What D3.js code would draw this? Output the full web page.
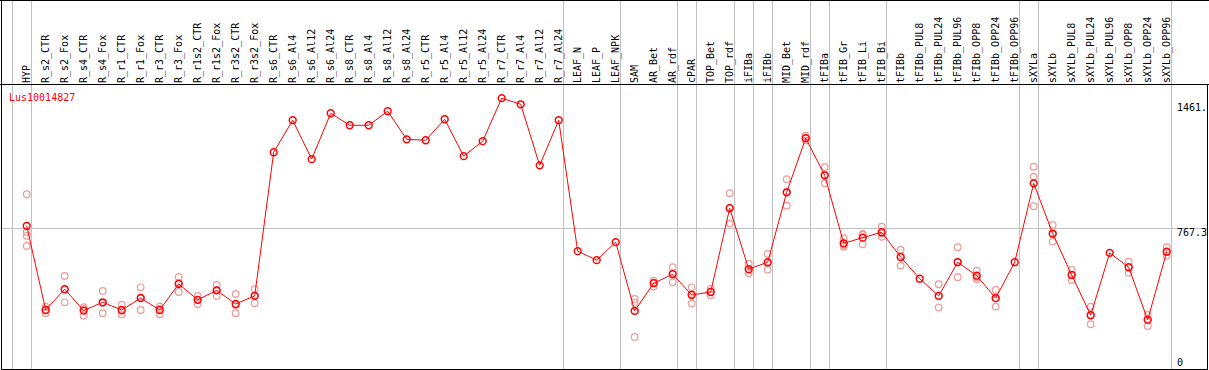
<!DOCTYPE html>
<html>
<head>
<meta charset="utf-8">
<script src="https://cdn.jsdelivr.net/npm/d3@7"></script>
<style>
  html, body { margin: 0; padding: 0; background: #fff; }
  svg { display: block; }
  text { font-family: "DejaVu Sans Mono", "Liberation Mono", monospace; font-size: 10px; }
</style>
</head>
<body>
<div id="chart"></div>
<script>
var geneName = "Lus10014827";

var samples = ["HYP", "R_s2_CTR", "R_s2_Fox", "R_s4_CTR", "R_s4_Fox", "R_r1_CTR", "R_r1_Fox",
  "R_r3_CTR", "R_r3_Fox", "R_r1s2_CTR", "R_r1s2_Fox", "R_r3s2_CTR", "R_r3s2_Fox",
  "R_s6_CTR", "R_s6_Al4", "R_s6_Al12", "R_s6_Al24", "R_s8_CTR", "R_s8_Al4", "R_s8_Al12", "R_s8_Al24",
  "R_r5_CTR", "R_r5_Al4", "R_r5_Al12", "R_r5_Al24", "R_r7_CTR", "R_r7_Al4", "R_r7_Al12", "R_r7_Al24",
  "LEAF_N", "LEAF_P", "LEAF_NPK", "SAM", "AR_Bet", "AR_rdf", "cPAR", "TOP_Bet", "TOP_rdf",
  "iFIBa", "iFIBb", "MID_Bet", "MID_rdf", "tFIBa", "tFIB_Gr", "tFIB_Li", "tFIB_Bi", "tFIBb",
  "tFIBb_PUL8", "tFIBb_PUL24", "tFIBb_PUL96", "tFIBb_OPP8", "tFIBb_OPP24", "tFIBb_OPP96",
  "sXYLa", "sXYLb", "sXYLb_PUL8", "sXYLb_PUL24", "sXYLb_PUL96", "sXYLb_OPP8", "sXYLb_OPP24", "sXYLb_OPP96"];

// mean expression per sample
var means = [780, 331, 442, 328, 372, 331, 394, 331, 470, 385, 436, 363, 406,
  1173, 1344, 1136, 1381, 1317, 1317, 1392, 1242, 1237, 1349, 1152, 1232, 1461.5, 1429, 1103, 1344,
  645, 597, 693, 326, 474, 522, 411, 427, 874, 549, 586, 959, 1248, 1050, 687, 717, 746, 613,
  498, 406, 586, 514, 394, 586, 1007, 739, 518, 303, 636, 559, 278, 642];

// individual replicates (empty where they sit under the mean)
var replicates = [
  [949, 747, 727, 673], [349, 331, 314], [513, 441, 372], [346, 337, 301], [433, 369, 314],
  [358, 327, 308], [452, 399, 331], [349, 336, 308], [507, 476, 427], [406, 386, 363],
  [465, 437, 406], [417, 358, 314], [442, 409, 367],
  [], [], [], [], [], [], [], [], [], [], [], [], [], [], [], [],
  [], [], [],
  [390, 370, 326, 187], [488, 478, 456], [559, 528, 479], [452, 416, 365], [443, 428, 410],
  [954, 876, 792], [578, 542, 527], [630, 582, 546], [1029, 961, 888], [1261, 1248, 1235],
  [1093, 1050, 1007], [714, 678, 669], [732, 737, 682], [776, 740, 722], [652, 619, 568],
  [], [469, 405, 344], [666, 586, 506], [541, 506, 495], [438, 395, 349], [],
  [1096, 1043, 885], [785, 736, 696], [545, 518, 491], [349, 305, 255], [],
  [589, 558, 530], [305, 283, 246], [666, 640, 621]];

// grey separators drawn right after these samples
var groupEnds = ["HYP", "R_r7_Al24", "LEAF_NPK", "AR_rdf", "cPAR", "TOP_rdf", "iFIBa", "iFIBb",
  "MID_rdf", "tFIBa", "tFIB_Bi", "tFIBb_OPP96", "sXYLa", "sXYLb_OPP96"];

var width = 1209, height = 370;
var headerY = 84.5, plotBottom = 369;

var svg = d3.select("#chart").append("svg")
  .attr("width", width)
  .attr("height", height);

var xScale = d3.scalePoint()
  .domain(samples)
  .range([26.7, 1166.7]);
var step = xScale.step();

var yMax = d3.max(means) * 1.05;
var yScale = d3.scaleLinear()
  .domain([0, yMax])
  .range([372, headerY]);

// vertical group separators (full height)
var sepX = [xScale(samples[0]) - step + 4].concat(groupEnds.map(function(s){ return xScale(s) + 4; }));
svg.selectAll(".sep")
  .data(sepX)
  .enter().append("line")
  .attr("x1", function(d){ return Math.round(d) + 0.5; })
  .attr("x2", function(d){ return Math.round(d) + 0.5; })
  .attr("y1", 0)
  .attr("y2", plotBottom)
  .attr("stroke", "#c0c0c0")
  .attr("stroke-width", 1);

// middle horizontal gridline
svg.append("line")
  .attr("x1", 1).attr("x2", 1207)
  .attr("y1", Math.round(yScale(yMax / 2)) + 0.5)
  .attr("y2", Math.round(yScale(yMax / 2)) + 0.5)
  .attr("stroke", "#c0c0c0");

// frame
svg.append("line").attr("x1", 0).attr("x2", width).attr("y1", 0.5).attr("y2", 0.5).attr("stroke", "#000");
svg.append("line").attr("x1", 0).attr("x2", width).attr("y1", headerY).attr("y2", headerY).attr("stroke", "#000");
svg.append("line").attr("x1", 1.5).attr("x2", 1.5).attr("y1", 0).attr("y2", plotBottom + 0.5).attr("stroke", "#000");
svg.append("line").attr("x1", 1207.5).attr("x2", 1207.5).attr("y1", headerY).attr("y2", plotBottom + 0.5).attr("stroke", "#000");
svg.append("line").attr("x1", 1).attr("x2", 1208).attr("y1", plotBottom + 0.5).attr("y2", plotBottom + 0.5).attr("stroke", "#000");

// rotated sample labels
svg.selectAll(".lab")
  .data(samples)
  .enter().append("text")
  .attr("transform", function(d){ return "translate(" + (xScale(d) + 3) + "," + (headerY - 1.5) + ") rotate(-90)"; })
  .attr("fill", "#000")
  .text(function(d){ return d; });

// gene name
svg.append("text")
  .attr("x", 9)
  .attr("y", 101)
  .attr("fill", "#f00")
  .text(geneName);

// y labels on the right
var yLabels = [
  { v: d3.max(means), t: String(d3.max(means)).slice(0, 5), dy: 13 },
  { v: yMax / 2, t: (yMax / 2).toFixed(1), dy: 8 },
  { v: 0, t: "0", dy: -6 }];
svg.selectAll(".ylab")
  .data(yLabels)
  .enter().append("text")
  .attr("x", 1177)
  .attr("y", function(d){ return yScale(d.v) + d.dy; })
  .attr("fill", "#000")
  .text(function(d){ return d.t; });

// replicate circles
var repPts = [];
replicates.forEach(function(r, i){
  r.forEach(function(v){ repPts.push({ s: samples[i], v: v }); });
});
svg.selectAll(".rep")
  .data(repPts)
  .enter().append("circle")
  .attr("cx", function(d){ return xScale(d.s); })
  .attr("cy", function(d){ return yScale(d.v); })
  .attr("r", 3.3)
  .attr("fill", "none")
  .attr("stroke", "#ee9a9a")
  .attr("stroke-width", 1.2);

// mean line
var line = d3.line()
  .x(function(d, i){ return xScale(samples[i]); })
  .y(function(d){ return yScale(d); });
svg.append("path")
  .datum(means)
  .attr("d", line)
  .attr("fill", "none")
  .attr("stroke", "#f00")
  .attr("stroke-width", 1);

// mean circles
svg.selectAll(".mean")
  .data(means)
  .enter().append("circle")
  .attr("cx", function(d, i){ return xScale(samples[i]); })
  .attr("cy", function(d){ return yScale(d); })
  .attr("r", 3.4)
  .attr("fill", "none")
  .attr("stroke", "#f00")
  .attr("stroke-width", 1.5);
</script>
</body>
</html>
